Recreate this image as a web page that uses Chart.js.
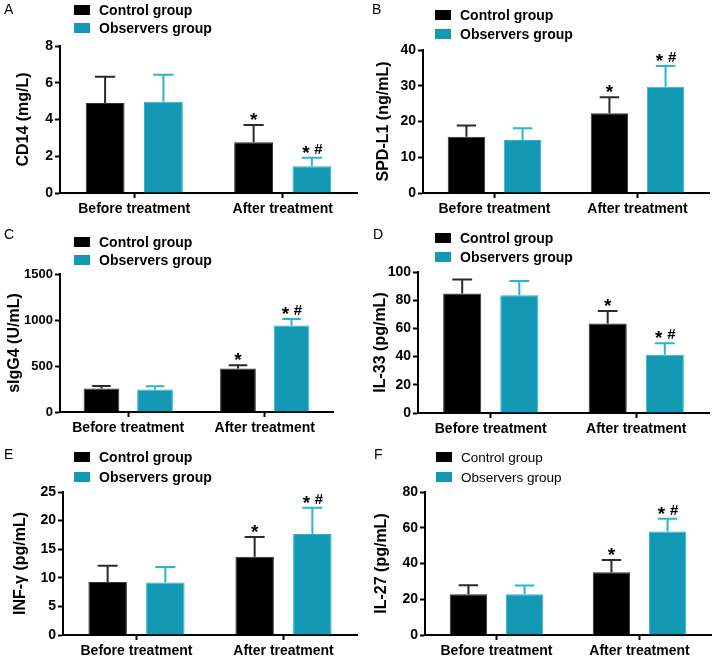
<!DOCTYPE html>
<html>
<head>
<meta charset="utf-8">
<script src="https://cdn.jsdelivr.net/npm/chart.js@4.4.0/dist/chart.umd.min.js"></script>
<style>
  html, body { margin: 0; padding: 0; background: #fff; }
  #wrap { position: relative; width: 713px; height: 661px; overflow: hidden; }
  #wrap canvas { position: absolute; }
</style>
</head>
<body>
<div id="wrap"></div>
<script>
// === Data ===
const categories = ['Before treatment', 'After treatment'];
const seriesNames = ['Control group', 'Observers group'];
const controlMarks = ['', '*'];
const observerMarks = ['', '* #'];

const cd14Control = [4.9, 2.76];
const cd14ControlSD = [1.43, 0.94];
const cd14Observer = [4.97, 1.45];
const cd14ObserverSD = [1.47, 0.47];

const spdControl = [15.7, 22.3];
const spdControlSD = [3.2, 4.5];
const spdObserver = [14.8, 29.7];
const spdObserverSD = [3.3, 5.8];

const sigg4Control = [255, 473];
const sigg4ControlSD = [28, 36];
const sigg4Observer = [244, 941];
const sigg4ObserverSD = [36, 69];

const il33Control = [84.7, 63.4];
const il33ControlSD = [9.9, 8.9];
const il33Observer = [83.5, 41.4];
const il33ObserverSD = [10.1, 8.0];

const infControl = [9.25, 13.7];
const infControlSD = [2.85, 3.45];
const infObserver = [9.2, 17.65];
const infObserverSD = [2.7, 4.6];

const il27Control = [22.8, 35.1];
const il27ControlSD = [5.1, 6.9];
const il27Observer = [22.8, 57.9];
const il27ObserverSD = [4.9, 7.1];

// === Colours / fonts ===
const FONT = '"Liberation Sans", Arial, sans-serif';
const BLACK = '#000000';
const TEAL = '#1499b4';
const TEAL_LIGHT = '#2bb5cc';
Chart.defaults.font.family = FONT;
Chart.defaults.color = '#000';

// === Panel layout (global page coordinates) ===
const panels = [
  { letter: 'A', title: 'CD14 (mg/L)', max: 8, step: 2, tickSize: 14,
    control: cd14Control, controlSD: cd14ControlSD, observer: cd14Observer, observerSD: cd14ObserverSD,
    box: { x: 0, y: 0, w: 360, h: 220 }, area: { l: 60, t: 46, r: 357, b: 193 },
    titleX: 24, legend: { x: 74, y1: 10, y2: 28 }, pos: { x: 4, y: 10 }, bold: true },
  { letter: 'B', title: 'SPD-L1 (ng/mL)', max: 40, step: 10, tickSize: 14,
    control: spdControl, controlSD: spdControlSD, observer: spdObserver, observerSD: spdObserverSD,
    box: { x: 355, y: 0, w: 358, h: 220 }, area: { l: 423, t: 50, r: 709, b: 193 },
    titleX: 384, legend: { x: 435, y1: 15, y2: 34 }, pos: { x: 372, y: 10 }, bold: true },
  { letter: 'C', title: 'sIgG4 (U/mL)', max: 1500, step: 500, tickSize: 13,
    control: sigg4Control, controlSD: sigg4ControlSD, observer: sigg4Observer, observerSD: sigg4ObserverSD,
    box: { x: 0, y: 220, w: 360, h: 220 }, area: { l: 60, t: 274, r: 333, b: 412 },
    titleX: 15, legend: { x: 74, y1: 242, y2: 260 }, pos: { x: 4, y: 235 }, bold: true },
  { letter: 'D', title: 'IL-33 (pg/mL)', max: 100, step: 20, tickSize: 14,
    control: il33Control, controlSD: il33ControlSD, observer: il33Observer, observerSD: il33ObserverSD,
    box: { x: 355, y: 220, w: 358, h: 220 }, area: { l: 418, t: 272, r: 709, b: 413 },
    titleX: 381, legend: { x: 435, y1: 238, y2: 257 }, pos: { x: 373, y: 235 }, bold: true },
  { letter: 'E', title: 'INF-γ (pg/mL)', max: 25, step: 5, tickSize: 14,
    control: infControl, controlSD: infControlSD, observer: infObserver, observerSD: infObserverSD,
    box: { x: 0, y: 440, w: 360, h: 221 }, area: { l: 63, t: 492, r: 357, b: 635 },
    titleX: 21, legend: { x: 74, y1: 457, y2: 477 }, pos: { x: 4, y: 455 }, bold: true },
  { letter: 'F', title: 'IL-27 (pg/mL)', max: 80, step: 20, tickSize: 14,
    control: il27Control, controlSD: il27ControlSD, observer: il27Observer, observerSD: il27ObserverSD,
    box: { x: 355, y: 440, w: 358, h: 221 }, area: { l: 425, t: 492, r: 711, b: 635 },
    titleX: 382, legend: { x: 436, y1: 457, y2: 477 }, pos: { x: 374, y: 455 }, bold: false }
];

// === Plugin: SD error bars + significance marks ===
const errorBars = {
  id: 'errorBars',
  afterDatasetsDraw(chart) {
    const ctx = chart.ctx;
    const yScale = chart.scales.y;
    chart.data.datasets.forEach((ds, i) => {
      chart.getDatasetMeta(i).data.forEach((bar, j) => {
        const top = yScale.getPixelForValue(ds.data[j] + ds.sd[j]);
        const half = bar.width * 0.26;
        ctx.save();
        ctx.strokeStyle = ds.errColor;
        ctx.lineWidth = 2;
        ctx.beginPath();
        ctx.moveTo(bar.x, bar.y);
        ctx.lineTo(bar.x, top);
        ctx.moveTo(bar.x - half, top);
        ctx.lineTo(bar.x + half, top);
        ctx.stroke();

        const mark = ds.marks[j];
        if (mark) {
          ctx.fillStyle = '#000';
          ctx.textAlign = 'center';
          ctx.textBaseline = 'alphabetic';
          ctx.font = 'bold 19px ' + FONT;
          if (mark === '*') {
            ctx.fillText('*', bar.x, top + 1);
          } else {
            ctx.fillText('*', bar.x - 6, top + 1);
            ctx.font = 'bold 15px ' + FONT;
            ctx.fillText('#', bar.x + 6.5, top - 4);
          }
        }
        ctx.restore();
      });
    });
  }
};

// === Plugin: panel letter + two-row legend ===
const panelDecor = {
  id: 'panelDecor',
  afterDraw(chart) {
    const p = chart.options.plugins.panelDecor;
    const ctx = chart.ctx;
    const ox = p.box.x, oy = p.box.y;
    ctx.save();
    ctx.fillStyle = '#000';
    ctx.font = '14px ' + FONT;
    ctx.textAlign = 'left';
    ctx.textBaseline = 'middle';
    ctx.fillText(p.letter, p.pos.x - ox, p.pos.y - oy);

    const rows = [p.legend.y1, p.legend.y2];
    chart.data.datasets.forEach((ds, i) => {
      const y = rows[i] - oy;
      ctx.fillStyle = ds.legendColor;
      ctx.fillRect(p.legend.x - ox, y - 5, 16, 10);
      ctx.fillStyle = '#000';
      ctx.font = (p.bold ? 'bold 14px ' : '13.5px ') + FONT;
      ctx.fillText(ds.label, p.legend.x - ox + 25, y + 1);
    });
    ctx.restore();
  }
};

// === Build the six charts ===
const wrap = document.getElementById('wrap');

panels.forEach(p => {
  const canvas = document.createElement('canvas');
  canvas.width = p.box.w;
  canvas.height = p.box.h;
  canvas.style.left = p.box.x + 'px';
  canvas.style.top = p.box.y + 'px';
  canvas.style.width = p.box.w + 'px';
  canvas.style.height = p.box.h + 'px';
  wrap.appendChild(canvas);

  const yWidth = p.area.l - p.box.x;
  const xHeight = p.box.y + p.box.h - p.area.b;
  const titleSize = 16;

  new Chart(canvas, {
    type: 'bar',
    data: {
      labels: categories,
      datasets: [
        {
          label: seriesNames[0],
          data: p.control,
          sd: p.controlSD,
          marks: controlMarks,
          errColor: '#2a2a2a',
          legendColor: BLACK,
          backgroundColor: BLACK,
          borderColor: '#333',
          borderWidth: 1,
          barPercentage: 0.667,
          categoryPercentage: 0.785
        },
        {
          label: seriesNames[1],
          data: p.observer,
          sd: p.observerSD,
          marks: observerMarks,
          errColor: TEAL_LIGHT,
          legendColor: TEAL,
          backgroundColor: TEAL,
          borderColor: TEAL_LIGHT,
          borderWidth: 1,
          barPercentage: 0.667,
          categoryPercentage: 0.785
        }
      ]
    },
    options: {
      responsive: false,
      animation: false,
      devicePixelRatio: 1,
      layout: {
        padding: { left: 0, top: p.area.t - p.box.y, right: p.box.x + p.box.w - p.area.r, bottom: 0 }
      },
      plugins: {
        legend: { display: false },
        tooltip: { enabled: false },
        panelDecor: p
      },
      scales: {
        x: {
          offset: true,
          grid: { display: true, offset: false, drawOnChartArea: false, drawTicks: true, tickLength: 5, tickWidth: 2, color: '#000' },
          border: { display: true, color: '#000', width: 2 },
          ticks: { color: '#000', font: { size: 14, weight: 'bold' }, padding: 3, maxRotation: 0 },
          afterFit: s => { s.height = xHeight; }
        },
        y: {
          min: 0,
          max: p.max,
          ticks: {
            stepSize: p.step,
            color: '#000',
            font: { size: p.tickSize, weight: 'bold' },
            padding: 2,
            callback: v => String(v)
          },
          grid: { display: true, drawOnChartArea: false, drawTicks: true, tickLength: 5, tickWidth: 2, color: '#000' },
          border: { display: true, color: '#000', width: 2 },
          title: {
            display: true,
            text: p.title,
            color: '#000',
            font: { size: titleSize, weight: 'bold' },
            padding: { top: p.titleX - p.box.x - titleSize * 0.6, bottom: 0 }
          },
          afterFit: s => { s.width = yWidth; }
        }
      }
    },
    plugins: [errorBars, panelDecor]
  });
});
</script>
</body>
</html>
